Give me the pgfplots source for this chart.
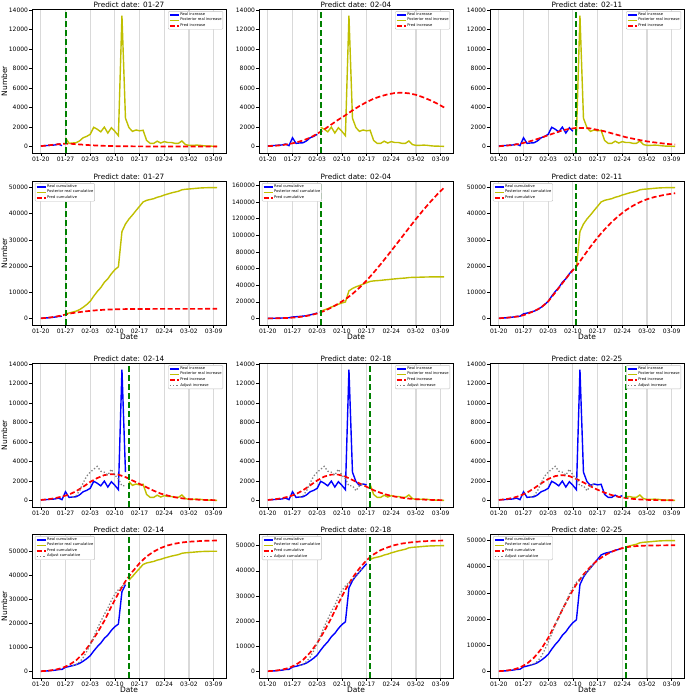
\documentclass[border=0pt]{standalone}
\usepackage{fontspec}
\setmainfont{DejaVu Sans}
\usepackage{pgfplots}
\usepackage{pgfplotstable}
\pgfplotsset{compat=1.18}
\definecolor{ycol}{rgb}{0.75,0.75,0}
\definecolor{gcol}{rgb}{0,0.5,0}

\pgfplotstableread{
day inc cum
0 60 60
1 80 140
2 100 240
3 130 370
4 150 520
5 250 770
6 80 850
7 892 1742
8 315 2057
9 356 2413
10 378 2791
11 576 3367
12 894 4261
13 1033 5294
14 1242 6536
15 1967 8503
16 1766 10269
17 1501 11770
18 1985 13755
19 1379 15134
20 1921 17055
21 1552 18607
22 1104 19711
23 13436 33147
24 2900 36047
25 1923 37970
26 1548 39518
27 1690 41208
28 1600 42808
29 1660 44468
30 615 45083
31 319 45402
32 314 45716
33 541 46257
34 348 46605
35 499 47104
36 401 47505
37 409 47914
38 318 48232
39 313 48545
40 565 49110
41 193 49303
42 111 49414
43 114 49528
44 131 49659
45 126 49785
46 74 49859
47 41 49900
48 36 49936
49 17 49953
50 13 49966
}\real

\pgfplotstableread{
day inc cum
0 30 50
1 70 150
2 110 280
3 150 450
4 190 650
5 230 900
6 270 1180
7 290 1500
8 280 1800
9 260 2050
10 230 2250
12 180 2600
14 130 2900
16 90 3150
18 60 3320
20 40 3440
22 25 3520
24 15 3570
26 10 3600
28 6 3620
30 4 3635
32 2 3645
34 1 3650
36 0 3655
40 0 3660
50 0 3665
}\pa

\pgfplotstableread{
day inc cum
0 30 50
2 70 150
4 130 350
6 250 700
8 400 1300
10 620 2300
12 900 3800
14 1300 6000
16 1750 9000
18 2250 13000
20 2750 17800
22 3200 23000
24 3700 29500
26 4150 37000
28 4550 45500
30 4900 55000
32 5150 65200
34 5350 75800
36 5480 86600
38 5520 97600
40 5450 108600
42 5300 119400
44 5050 129800
46 4750 139600
48 4400 148800
50 4000 157200
}\pb

\pgfplotstableread{
day inc cum
0 20 60
2 80 240
4 150 520
6 280 850
8 450 1700
10 650 2800
12 900 4200
14 1150 6500
16 1400 9900
18 1650 13400
20 1800 16900
22 1900 19900
24 1900 23700
26 1850 27400
28 1700 30900
30 1550 34000
32 1350 36800
34 1150 39200
36 950 41300
38 800 43000
40 650 44400
42 520 45500
44 420 46300
46 330 46900
48 250 47400
50 200 47800
}\pc

\pgfplotstableread{
day inc cum
0 50 100
2 120 300
4 230 700
6 400 1400
8 600 2700
10 950 4600
12 1400 7500
14 1900 11500
16 2300 16000
18 2600 21000
20 2700 27000
22 2650 32500
24 2400 37500
26 2050 41500
28 1700 45000
30 1350 47800
32 1000 49800
34 700 51300
36 500 52400
38 330 53100
40 220 53600
42 140 53900
44 90 54100
46 60 54250
48 40 54350
50 25 54400
}\pd

\pgfplotstableread{
day inc cum
0 50 100
2 120 300
4 230 700
6 400 1400
8 650 2700
10 1050 4600
12 1550 7500
14 2050 11300
16 2450 16000
18 2650 21200
20 2650 27000
22 2450 32500
24 2100 37200
26 1750 41000
28 1400 44200
30 1050 46500
32 780 48200
34 560 49300
36 400 50200
38 280 50800
40 190 51200
42 130 51500
44 90 51700
46 60 51850
48 40 51950
50 25 52000
}\pe

\pgfplotstableread{
day inc cum
0 50 100
2 130 300
4 260 700
6 480 1500
8 800 3000
10 1250 5300
12 1750 8500
14 2200 12800
16 2500 18000
18 2600 23500
20 2500 28800
22 2200 33300
24 1850 37000
26 1450 40000
28 1100 42500
30 800 44300
32 550 45700
34 370 46700
36 250 47400
38 160 47750
40 100 47950
42 60 48050
44 40 48100
46 25 48120
48 15 48140
50 10 48150
}\pf

\pgfplotstableread{
day inc cum
9 356 2413
10 500 2913
11 1000 3913
12 1800 5713
13 2500 8213
14 2900 11113
15 3200 14313
16 3500 17813
17 3000 20813
18 2900 23713
19 2600 26313
20 3200 29513
21 2600 32113
22 2200 34000
23 1500 35300
24 1500 36500
25 1000 38000
26 1500 39518
27 1690 41208
}\adj

\pgfplotsset{
  base/.style={
    scale only axis, width=194pt, height=144pt,
    xmin=-2.5, xmax=52.5,
    xtick={0,7,14,21,28,35,42,49},
    xticklabels={01-20,01-27,02-03,02-10,02-17,02-24,03-02,03-09},
    xmajorgrids, grid style={black!15, line width=1.2pt},
    tick align=outside, tick pos=left, major tick length=2.8pt,
    tick style={line width=0.5pt, black},
    scaled y ticks=false,
    yticklabel={\pgfmathprintnumber[fixed,precision=0,1000 sep={},assume math mode=true]{\tick}},
    ticklabel style={font=\fontsize{6}{7}\selectfont},
    xticklabel style={inner sep=0.8pt},
    yticklabel style={inner sep=1pt},
    title style={font=\fontsize{7.3}{8.5}\selectfont, inner sep=1pt},
    every axis title shift=0pt,
    label style={font=\fontsize{7.5}{9}\selectfont},
    every axis x label/.append style={inner sep=0pt},
    every axis y label/.append style={inner sep=0.5pt},
    axis line style={line width=0.5pt},
    legend cell align=left,
    legend image code/.code={\draw[#1] (0pt,0pt) -- (9pt,0pt);},
    legend style={font=\fontsize{3.7}{4.4}\selectfont, draw=black!25, rounded corners=1pt,
      inner sep=0.7pt, nodes={inner sep=0.6pt}, fill=white},
  },
  incax/.style={base, ymin=-672, ymax=14108, ytick={0,2000,...,14000},
    legend style={at={(0.985,0.985)}, anchor=north east}},
  cumax/.style={base, ytick={0,10000,...,50000},
    legend style={at={(0.015,0.985)}, anchor=north west}},
  realS/.style={blue, line width=1.4pt},
  postS/.style={ycol, line width=1.4pt},
  predS/.style={red, line width=1.7pt, dash pattern=on 5pt off 2.5pt},
  adjS/.style={black!50, line width=1.3pt, dash pattern=on 1.3pt off 2pt},
  refline/.style={gcol, line width=2pt, dash pattern=on 6pt off 3pt, forget plot},
}

\begin{document}
\begin{tikzpicture}
\path[use as bounding box] (0,0) rectangle (685pt,696pt);

% ---------- Row 1 : increase ----------
\begin{axis}[incax, at={(32pt,543pt)}, anchor=south west, title={Predict date: 01-27}, ylabel={Number}]
\addplot[realS] table[x=day,y=inc,restrict x to domain=0:6]{\real}; \addlegendentry{Real increase}
\addplot[postS] table[x=day,y=inc,restrict x to domain=7:50]{\real}; \addlegendentry{Posterior real increase}
\addplot[predS] table[x=day,y=inc]{\pa}; \addlegendentry{Pred increase}
\addplot[refline] coordinates {(7,-672) (7,14108)};
\end{axis}

\begin{axis}[incax, at={(259pt,543pt)}, anchor=south west, title={Predict date: 02-04}]
\addplot[realS] table[x=day,y=inc,restrict x to domain=0:14]{\real}; \addlegendentry{Real increase}
\addplot[postS] table[x=day,y=inc,restrict x to domain=15:50]{\real}; \addlegendentry{Posterior real increase}
\addplot[predS] table[x=day,y=inc]{\pb}; \addlegendentry{Pred increase}
\addplot[refline] coordinates {(15,-672) (15,14108)};
\end{axis}

\begin{axis}[incax, at={(490pt,543pt)}, anchor=south west, title={Predict date: 02-11}]
\addplot[realS] table[x=day,y=inc,restrict x to domain=0:21]{\real}; \addlegendentry{Real increase}
\addplot[postS] table[x=day,y=inc,restrict x to domain=22:50]{\real}; \addlegendentry{Posterior real increase}
\addplot[predS] table[x=day,y=inc]{\pc}; \addlegendentry{Pred increase}
\addplot[refline] coordinates {(22,-672) (22,14108)};
\end{axis}

% ---------- Row 2 : cumulative ----------
\begin{axis}[cumax, at={(32pt,371pt)}, anchor=south west, ymin=-2500, ymax=52466,
  title={Predict date: 01-27}, ylabel={Number}, xlabel={Date}]
\addplot[realS] table[x=day,y=cum,restrict x to domain=0:6]{\real}; \addlegendentry{Real cumulative}
\addplot[postS] table[x=day,y=cum,restrict x to domain=7:50]{\real}; \addlegendentry{Posterior real cumulative}
\addplot[predS] table[x=day,y=cum]{\pa}; \addlegendentry{Pred cumulative}
\addplot[refline] coordinates {(7,-2500) (7,52466)};
\end{axis}

\begin{axis}[cumax, at={(259pt,371pt)}, anchor=south west, ymin=-7860, ymax=165060,
  ytick={0,20000,...,160000}, title={Predict date: 02-04}, xlabel={Date}]
\addplot[realS] table[x=day,y=cum,restrict x to domain=0:14]{\real}; \addlegendentry{Real cumulative}
\addplot[postS] table[x=day,y=cum,restrict x to domain=15:50]{\real}; \addlegendentry{Posterior real cumulative}
\addplot[predS] table[x=day,y=cum]{\pb}; \addlegendentry{Pred cumulative}
\addplot[refline] coordinates {(15,-7860) (15,165060)};
\end{axis}

\begin{axis}[cumax, at={(490pt,371pt)}, anchor=south west, ymin=-2500, ymax=52466,
  title={Predict date: 02-11}, xlabel={Date}]
\addplot[realS] table[x=day,y=cum,restrict x to domain=0:21]{\real}; \addlegendentry{Real cumulative}
\addplot[postS] table[x=day,y=cum,restrict x to domain=22:50]{\real}; \addlegendentry{Posterior real cumulative}
\addplot[predS] table[x=day,y=cum]{\pc}; \addlegendentry{Pred cumulative}
\addplot[refline] coordinates {(22,-2500) (22,52466)};
\end{axis}

% ---------- Row 3 : increase with adjust ----------
\begin{axis}[incax, at={(32pt,189pt)}, anchor=south west, title={Predict date: 02-14}, ylabel={Number}]
\addplot[realS] table[x=day,y=inc,restrict x to domain=0:24]{\real}; \addlegendentry{Real increase}
\addplot[postS] table[x=day,y=inc,restrict x to domain=25:50]{\real}; \addlegendentry{Posterior real increase}
\addplot[predS] table[x=day,y=inc]{\pd}; \addlegendentry{Pred increase}
\addplot[adjS] table[x=day,y=inc,restrict x to domain=9:24]{\adj}; \addlegendentry{Adjust increase}
\addplot[refline] coordinates {(25,-672) (25,14108)};
\end{axis}

\begin{axis}[incax, at={(259pt,189pt)}, anchor=south west, title={Predict date: 02-18}]
\addplot[realS] table[x=day,y=inc,restrict x to domain=0:28]{\real}; \addlegendentry{Real increase}
\addplot[postS] table[x=day,y=inc,restrict x to domain=29:50]{\real}; \addlegendentry{Posterior real increase}
\addplot[predS] table[x=day,y=inc]{\pe}; \addlegendentry{Pred increase}
\addplot[adjS] table[x=day,y=inc]{\adj}; \addlegendentry{Adjust increase}
\addplot[refline] coordinates {(29,-672) (29,14108)};
\end{axis}

\begin{axis}[incax, at={(490pt,189pt)}, anchor=south west, title={Predict date: 02-25}]
\addplot[realS] table[x=day,y=inc,restrict x to domain=0:35]{\real}; \addlegendentry{Real increase}
\addplot[postS] table[x=day,y=inc,restrict x to domain=36:50]{\real}; \addlegendentry{Posterior real increase}
\addplot[predS] table[x=day,y=inc]{\pf}; \addlegendentry{Pred increase}
\addplot[adjS] table[x=day,y=inc]{\adj}; \addlegendentry{Adjust increase}
\addplot[refline] coordinates {(36,-672) (36,14108)};
\end{axis}

% ---------- Row 4 : cumulative with adjust ----------
\begin{axis}[cumax, at={(32pt,18pt)}, anchor=south west, ymin=-2720, ymax=57120,
  title={Predict date: 02-14}, ylabel={Number}, xlabel={Date}]
\addplot[realS] table[x=day,y=cum,restrict x to domain=0:24]{\real}; \addlegendentry{Real cumulative}
\addplot[postS] table[x=day,y=cum,restrict x to domain=25:50]{\real}; \addlegendentry{Posterior real cumulative}
\addplot[predS] table[x=day,y=cum]{\pd}; \addlegendentry{Pred cumulative}
\addplot[adjS] table[x=day,y=cum,restrict x to domain=9:24]{\adj}; \addlegendentry{Adjust cumulative}
\addplot[refline] coordinates {(25,-2720) (25,57120)};
\end{axis}

\begin{axis}[cumax, at={(259pt,18pt)}, anchor=south west, ymin=-2600, ymax=54600,
  title={Predict date: 02-18}, xlabel={Date}]
\addplot[realS] table[x=day,y=cum,restrict x to domain=0:28]{\real}; \addlegendentry{Real cumulative}
\addplot[postS] table[x=day,y=cum,restrict x to domain=29:50]{\real}; \addlegendentry{Posterior real cumulative}
\addplot[predS] table[x=day,y=cum]{\pe}; \addlegendentry{Pred cumulative}
\addplot[adjS] table[x=day,y=cum]{\adj}; \addlegendentry{Adjust cumulative}
\addplot[refline] coordinates {(29,-2600) (29,54600)};
\end{axis}

\begin{axis}[cumax, at={(490pt,18pt)}, anchor=south west, ymin=-2500, ymax=52466,
  title={Predict date: 02-25}, xlabel={Date}]
\addplot[realS] table[x=day,y=cum,restrict x to domain=0:35]{\real}; \addlegendentry{Real cumulative}
\addplot[postS] table[x=day,y=cum,restrict x to domain=36:50]{\real}; \addlegendentry{Posterior real cumulative}
\addplot[predS] table[x=day,y=cum]{\pf}; \addlegendentry{Pred cumulative}
\addplot[adjS] table[x=day,y=cum]{\adj}; \addlegendentry{Adjust cumulative}
\addplot[refline] coordinates {(36,-2500) (36,52466)};
\end{axis}

\end{tikzpicture}
\end{document}
